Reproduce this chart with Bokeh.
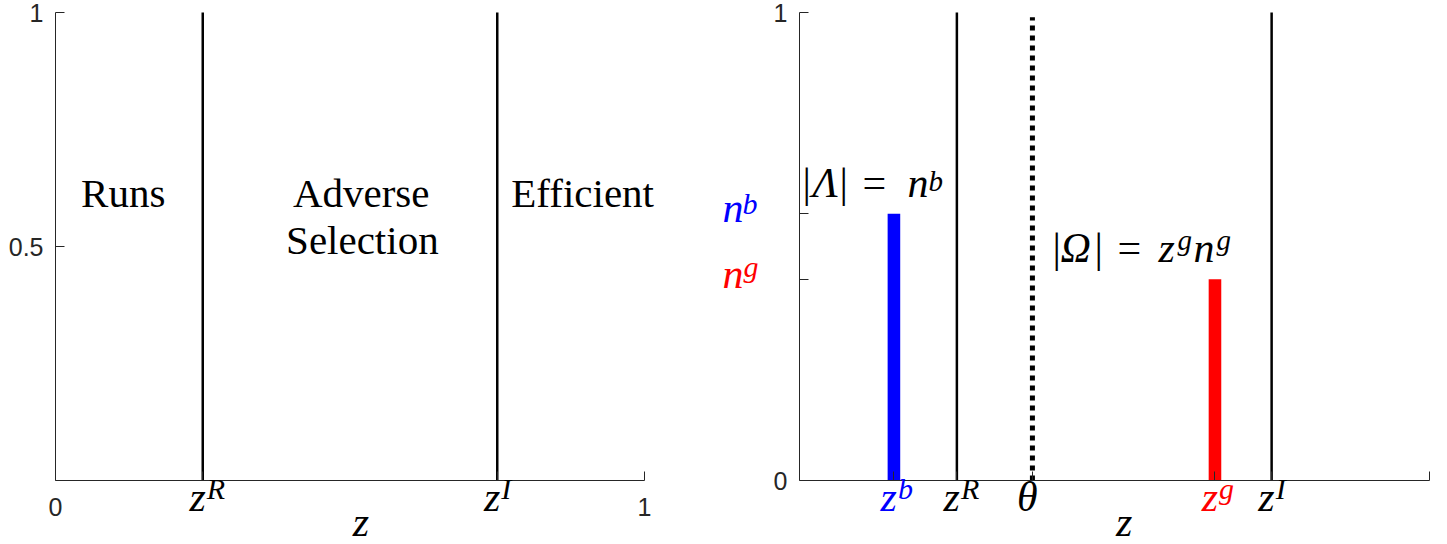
from bokeh.plotting import figure
from bokeh.layouts import row
from bokeh.models import Range1d, FixedTicker, Label, ColumnDataSource, LinearAxis
from bokeh.embed import file_html
from bokeh.resources import INLINE

# ---------------- data ----------------
z_R = 0.25      # run threshold
z_I = 0.75      # information threshold
z_b = 0.15      # bad-type position
z_g = 0.66      # good-type position
theta = 0.37    # cutoff
n_b = 0.57      # mass of bad types
n_g = 0.43      # mass of good types

region_names = ["Runs", "Adverse", "Selection", "Efficient"]
region_x = [0.115, 0.519, 0.521, 0.895]
region_y = [0.585, 0.585, 0.484, 0.585]

left_xticks = [0, z_R, z_I, 1]
left_xlabels = ["0", "", "", "1"]
left_yticks = [0.5, 1]
left_ylabels = ["0.5", "1"]

right_xticks = [z_b, z_R, theta, z_g, z_I, 1]
right_xlabels = ["", "", "", "", "", ""]
right_yticks = [0, n_g, n_b, 1]
right_ylabels = ["0", "", "", "1"]

# ---------------- style / geometry ----------------
AX = "#262626"
SERIF = "Liberation Serif"
SANS = "Liberation Sans"
BLUE = "#0000FF"
RED = "#FF0000"
H = 544
Y0, Y1 = 480, 12          # pixel rows of y=0 and y=1
BASE_FIX = 0.39           # baseline compensation (fraction of font size)


def base_fig(width, x0, x1, xticks, xlabels, yticks, ylabels):
    ux = x1 - x0
    uy = Y0 - Y1
    p = figure(width=width, height=H, title=None,
               x_range=Range1d(-x0 / ux, (width - x0) / ux),
               y_range=Range1d(-(H - Y0) / uy, 1 + Y1 / uy),
               x_axis_type=None, y_axis_type=None,
               output_backend="svg", toolbar_location=None, tools="")
    p.min_border = 0
    p.min_border_left = 0
    p.min_border_right = 0
    p.min_border_top = 0
    p.min_border_bottom = 0
    p.outline_line_color = None
    p.background_fill_color = "white"
    p.border_fill_color = "white"
    xa = LinearAxis(fixed_location=0, bounds=(0, 1))
    ya = LinearAxis(fixed_location=0, bounds=(0, 1))
    p.add_layout(xa, "below")
    p.add_layout(ya, "left")
    for ax, ticks, labels in ((xa, xticks, xlabels), (ya, yticks, ylabels)):
        ax.ticker = FixedTicker(ticks=ticks, minor_ticks=[])
        ax.major_label_overrides = {t: l for t, l in zip(ticks, labels)}
        ax.major_tick_in = 9
        ax.major_tick_out = 0
        ax.minor_tick_line_color = None
        ax.axis_line_color = AX
        ax.axis_line_width = 1
        ax.major_tick_line_color = AX
        ax.major_label_text_font = SANS
        ax.major_label_text_font_size = "25px"
        ax.major_label_text_color = AX
    xa.major_label_standoff = 17
    ya.major_label_standoff = 12
    return p


def lab(p, text, x, y, dx, dy, size=42, style="italic", color="black", align="left"):
    p.add_layout(Label(x=x, y=y, x_offset=dx, y_offset=dy + BASE_FIX * size, text=text,
                       text_font=SERIF, text_font_size=f"{size}px", text_font_style=style,
                       text_color=color, text_align=align, text_baseline="alphabetic"))


def ztick(p, x, sup, color="black"):
    lab(p, "z", x, 0, 3, -33, color=color, align="right")
    lab(p, sup, x, 0, 4, -20, size=30, color=color)


# ---------------- left panel ----------------
left = base_fig(700, 55, 644, left_xticks, left_xlabels, left_yticks, left_ylabels)
src_l = ColumnDataSource(dict(x=[z_R, z_I], y0=[0, 0], y1=[1, 1]))
left.segment(x0="x", y0="y0", x1="x", y1="y1", source=src_l, line_color="black", line_width=2.5)

for name, rx, ry in zip(region_names, region_x, region_y):
    lab(left, name, rx, ry, 0, -2, size=41, style="normal", align="center")

ztick(left, z_R, "R")
ztick(left, z_I, "I")
lab(left, "z", 0.5, 0, 11, -58, align="center")

# ---------------- right panel ----------------
right = base_fig(746, 99, 728.5, right_xticks, right_xlabels, right_yticks, right_ylabels)

src_r = ColumnDataSource(dict(x=[z_R, z_I], y0=[0, 0], y1=[1, 1]))
right.segment(x0="x", y0="y0", x1="x", y1="y1", source=src_r, line_color="black", line_width=2.5)
src_t = ColumnDataSource(dict(x=[theta], y0=[0], y1=[0.99]))
right.segment(x0="x", y0="y0", x1="x", y1="y1", source=src_t, line_color="black",
              line_width=5, line_dash="5 5")

right.vbar(x=[z_b], top=[n_b], width=0.02, bottom=0, fill_color=BLUE, line_color=None)
right.vbar(x=[z_g], top=[n_g], width=0.02, bottom=0, fill_color=RED, line_color=None)

# x tick labels
ztick(right, z_b, "b", BLUE)
ztick(right, z_R, "R")
ztick(right, z_g, "g", RED)
ztick(right, z_I, "I")
lab(right, "θ", theta, 0, -5, -33, align="center")
lab(right, "z", 0.5, 0, 10, -58, align="center")

# y tick labels n^b, n^g
lab(right, "n", 0, n_b, -56, -11, color=BLUE, align="right")
lab(right, "b", 0, n_b, -57, -1, size=30, color=BLUE)
lab(right, "n", 0, n_g, -56, -11, color=RED, align="right")
lab(right, "g", 0, n_g, -56, 1, size=30, color=RED)

# annotation |Λ| = n^b
lab(right, "|", 0, n_b, 3, 14, style="normal")
lab(right, "Λ", 0, n_b, 13, 14)
lab(right, "|", 0, n_b, 40, 14, style="normal")
lab(right, "=", 0, n_b, 63, 14, style="normal")
lab(right, "n", 0, n_b, 108, 14)
lab(right, "b", 0, n_b, 129, 21, size=29)

# annotation |Ω| = z^g n^g
lab(right, "|", theta, n_g, 20, 15, style="normal")
lab(right, "Ω", theta, n_g, 28, 15)
lab(right, "|", theta, n_g, 62, 15, style="normal")
lab(right, "=", theta, n_g, 85, 15, style="normal")
lab(right, "z", theta, n_g, 126, 15)
lab(right, "g", theta, n_g, 145, 28, size=29)
lab(right, "n", theta, n_g, 161, 15)
lab(right, "g", theta, n_g, 184, 28, size=29)

layout = row(left, right)
open("out.html", "w").write(file_html(layout, INLINE))
